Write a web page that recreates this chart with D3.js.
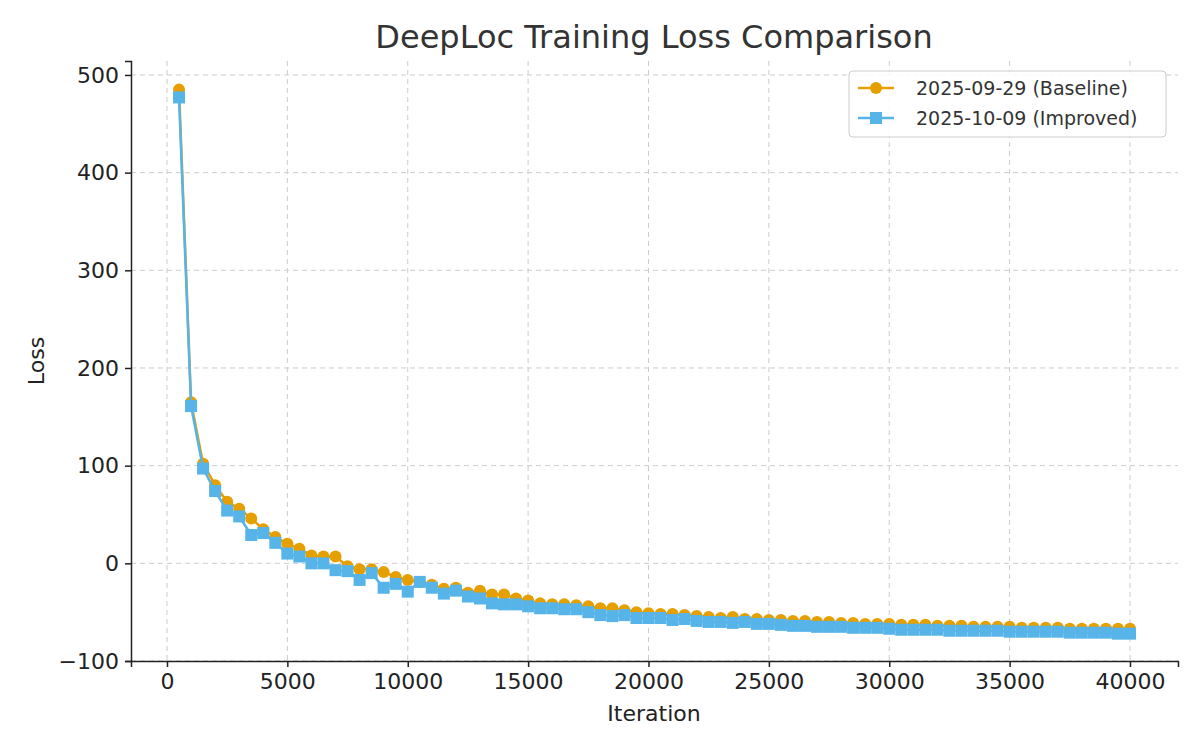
<!DOCTYPE html>
<html><head><meta charset="utf-8">
<script src="https://cdn.jsdelivr.net/npm/d3@7"></script>
<style>body{margin:0;background:#fff;font-family:"DejaVu Sans",sans-serif;}</style>
</head><body><svg id="svg" width="1200" height="750"></svg>
<script>
// values
var baseline = [485,165,102,80,63,56,46,35,27,20, 15,8,7,7,-3,-6,-6,-9,-14,-17,
  -19,-22,-26,-25,-30,-28,-32,-32,-36,-38, -41,-42,-42,-43,-44,-46,-46,-48,-50,-51,
  -52,-52,-53,-54,-55,-56,-55,-57,-57,-58, -58,-59,-59,-60,-60,-61,-61,-62,-62,-62,
  -63,-63,-63,-64,-64,-64,-65,-65,-65,-65, -66,-66,-66,-66,-67,-67,-67,-67,-67,-67];
var improved = [477,161,97,74,54,48,29,31,21,10, 7,0,0,-7,-8,-17,-10,-25,-21,-29,
  -19,-25,-31,-28,-34,-36,-41,-42,-42,-44, -46,-46,-47,-47,-50,-53,-54,-53,-56,-56,
  -56,-58,-57,-59,-60,-60,-61,-60,-62,-62, -63,-64,-64,-65,-65,-65,-66,-66,-66,-67,
  -68,-68,-68,-68,-69,-69,-69,-69,-69,-70, -70,-70,-70,-70,-71,-71,-71,-71,-72,-72];
var iterations = baseline.map((d, i) => (i + 1) * 500);
var seriesNames = ['2025-09-29 (Baseline)', '2025-10-09 (Improved)'];
var xTicks = [0,5000,10000,15000,20000,25000,30000,35000,40000];
var yTicks = [-100,0,100,200,300,400,500];

var svg = d3.select('#svg');
var margin = {top: 61, left: 131, right: 22, bottom: 89};
var innerWidth = 1200 - margin.left - margin.right;
var innerHeight = 750 - margin.top - margin.bottom;

var xScale = d3.scaleLinear().domain([-1495, 41994]).range([0, innerWidth]);
var yScale = d3.scaleLinear().domain([-100, 514.3]).range([innerHeight, 0]);

var g = svg.append('g').attr('transform', `translate(${margin.left},${margin.top})`);

// grid
g.selectAll('.gx').data(xTicks).join('line')
  .attr('x1', d => xScale(d)).attr('x2', d => xScale(d)).attr('y1', 0).attr('y2', innerHeight)
  .style('stroke', '#cccccc').style('stroke-dasharray', '5,4');
g.selectAll('.gy').data(yTicks).join('line')
  .attr('y1', d => yScale(d)).attr('y2', d => yScale(d)).attr('x1', 0).attr('x2', innerWidth)
  .style('stroke', '#cccccc').style('stroke-dasharray', '5,4');

var xAxis = g.append('g').attr('transform', `translate(0,${innerHeight})`)
  .call(d3.axisBottom(xScale).tickValues(xTicks).tickFormat(d3.format('d')).tickSizeOuter(0).tickSize(6).tickPadding(6));
var yAxis = g.append('g')
  .call(d3.axisLeft(yScale).tickValues(yTicks).tickFormat(d => d < 0 ? '\u2212' + Math.abs(d) : d).tickSizeOuter(0).tickSize(6).tickPadding(6));
[xAxis, yAxis].forEach(a => {
  a.selectAll('text').style('font-size', '22px').style('fill', '#222').style('font-family', 'DejaVu Sans');
  a.selectAll('line, path').style('stroke', '#222').style('stroke-width', 1.5);
});

var colors = ['#E69F00', '#56B4E9'];
var line = d3.line().x((d, i) => xScale(iterations[i])).y(d => yScale(d));

g.append('path').datum(baseline).attr('d', line).attr('fill', 'none').style('stroke', colors[0]).style('stroke-width', 2.5);
g.selectAll('.bc').data(baseline).join('circle')
  .attr('cx', (d, i) => xScale(iterations[i])).attr('cy', d => yScale(d)).attr('r', 6).attr('fill', colors[0]);

g.append('path').datum(improved).attr('d', line).attr('fill', 'none').style('stroke', colors[1]).style('stroke-width', 2.5);
g.selectAll('.is').data(improved).join('rect')
  .attr('x', (d, i) => xScale(iterations[i]) - 6).attr('y', d => yScale(d) - 6)
  .attr('width', 12).attr('height', 12).attr('fill', colors[1]);

// labels
svg.append('text').attr('x', 654).attr('y', 48).attr('text-anchor', 'middle')
  .style('font-size', '32px').style('fill', '#333').text('DeepLoc Training Loss Comparison');
svg.append('text').attr('x', 654).attr('y', 721).attr('text-anchor', 'middle')
  .style('font-size', '22px').style('fill', '#222').text('Iteration');
svg.append('text').attr('transform', 'translate(44,' + (margin.top + innerHeight / 2) + ') rotate(-90)')
  .attr('text-anchor', 'middle').style('font-size', '22px').style('fill', '#222').text('Loss');

// legend
var lg = svg.append('g').attr('transform', 'translate(849,71)');
lg.append('rect').attr('width', 317).attr('height', 66).attr('rx', 4)
  .attr('fill', '#fff').attr('fill-opacity', 0.85).style('stroke', '#cccccc');
seriesNames.forEach((name, i) => {
  var y = 17 + i * 30;
  lg.append('line').attr('x1', 9).attr('x2', 45).attr('y1', y).attr('y2', y).style('stroke', colors[i]).style('stroke-width', 2.5);
  if (i === 0) lg.append('circle').attr('cx', 27).attr('cy', y).attr('r', 6).attr('fill', colors[i]);
  else lg.append('rect').attr('x', 21).attr('y', y - 6).attr('width', 12).attr('height', 12).attr('fill', colors[i]);
  lg.append('text').attr('x', 67).attr('y', y + 7).style('font-size', '19px').style('fill', '#333').text(name);
});
</script></body></html>
